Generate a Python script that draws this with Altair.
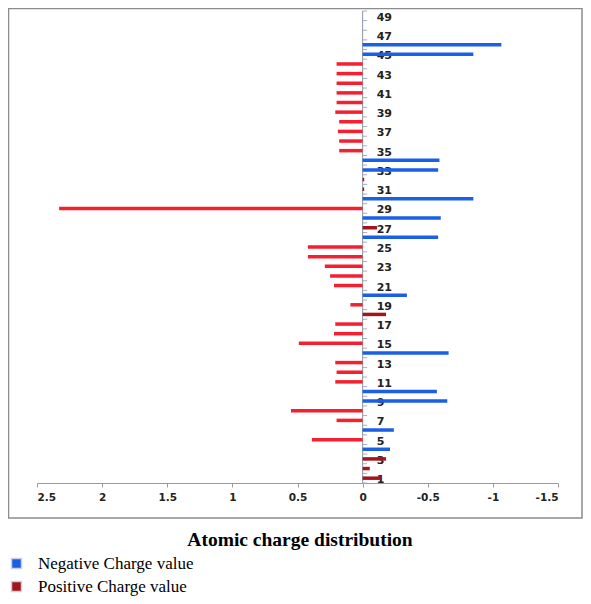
import altair as alt
import pandas as pd

# Category (atom number) and charge values
categories = list(range(1, 50))
neg_cats = [4, 6, 9, 10, 14, 20, 26, 28, 30, 33, 34, 45, 46]
neg_vals = [-0.21, -0.24, -0.65, -0.57, -0.66, -0.34, -0.58, -0.60, -0.85, -0.58, -0.59, -0.85, -1.065]
pos_cats = [1, 2, 3, 18, 27, 31, 32]
pos_vals = [-0.14, -0.055, -0.18, -0.18, -0.11, -0.012, -0.012]
red_cats = [5, 7, 8, 11, 12, 13, 15, 16, 17, 19, 21, 22, 23, 24, 25, 29,
            35, 36, 37, 38, 39, 40, 41, 42, 43, 44]
red_vals = [0.39, 0.20, 0.55, 0.21, 0.20, 0.21, 0.49, 0.22, 0.21, 0.094, 0.22, 0.25, 0.29, 0.42, 0.42, 2.33,
            0.18, 0.18, 0.19, 0.18, 0.21, 0.20, 0.20, 0.20, 0.20, 0.20]
x_ticks = [2.5, 2, 1.5, 1, 0.5, 0, -0.5, -1, -1.5]
y_labels = list(range(1, 50, 2))
boundaries = [c - 0.5 for c in categories] + [49.5]
title_text = "Atomic charge distribution"

NEG = "Negative Charge value"
POS = "Positive Charge value"
OTHER = "Charge value"

rows = []
for c, v in zip(neg_cats, neg_vals):
    rows.append({"cat": c, "value": v, "series": NEG})
for c, v in zip(pos_cats, pos_vals):
    rows.append({"cat": c, "value": v, "series": POS})
for c, v in zip(red_cats, red_vals):
    rows.append({"cat": c, "value": v, "series": OTHER})
df = pd.DataFrame(rows)
bdf = pd.DataFrame({"b": boundaries, "x0": 0.0, "x1": -0.035})
ldf = pd.DataFrame({"lab": y_labels, "x0": 0.0})
adf = pd.DataFrame({"x0": [0.0], "y0": [0.5], "y1": [49.5]})
tdf = pd.DataFrame({"t": [title_text]})
one = pd.DataFrame({"k": [0]})

xscale = alt.Scale(domain=[-1.5, 2.5], reverse=True, nice=False, zero=False, padding=0)
yscale = alt.Scale(domain=[0.5, 49.5], nice=False, zero=False, padding=0)

bars = alt.Chart(df).mark_bar(orient="horizontal", size=3.5).encode(
    x=alt.X("value:Q", scale=xscale, stack=None, title="",
            axis=alt.Axis(values=x_ticks, labelExpr="'' + datum.value", grid=False,
                          tickSize=4, tickColor="#9a9a9a", domainColor="#9a9a9a",
                          labelFont="DejaVu Sans", labelFontSize=10.5, labelFontWeight="bold",
                          labelColor="#222222", labelPadding=5)),
    y=alt.Y("cat:Q", scale=yscale, axis=None),
    color=alt.Color("series:N",
                    scale=alt.Scale(domain=[NEG, POS, OTHER], range=["#1a5fe6", "#a3141e", "#f5202f"]),
                    legend=alt.Legend(values=[NEG, POS], title=None, orient="none",
                                      legendX=-29, legendY=544, symbolType="square", symbolSize=100,
                                      symbolStrokeColor="#c8d2e4", symbolStrokeWidth=1.5,
                                      labelFont="Liberation Serif", labelFontSize=17,
                                      labelColor="#000000", labelOffset=13, rowPadding=5, padding=0)),
)

# vertical category axis line at x = 0
axis_line = alt.Chart(adf).mark_rule(color="#8a96a6", strokeWidth=1).encode(
    x=alt.X("x0:Q", scale=xscale, title=""),
    y=alt.Y("y0:Q", scale=yscale, axis=None),
    y2="y1:Q",
)

# small tick marks between categories
ticks = alt.Chart(bdf).mark_rule(color="#a8b0bc", strokeWidth=1).encode(
    y=alt.Y("b:Q", scale=yscale, axis=None),
    x=alt.X("x0:Q", scale=xscale, title=""),
    x2="x1:Q",
)

# category labels to the right of the axis
labels = alt.Chart(ldf).mark_text(align="left", baseline="middle", dx=14, dy=2,
                                   font="DejaVu Sans", fontSize=11, fontWeight="bold",
                                   color="#222222").encode(
    y=alt.Y("lab:Q", scale=yscale, axis=None),
    x=alt.X("x0:Q", scale=xscale, title=""),
    text="lab:N",
)

frame = alt.Chart(one).mark_rect(filled=False, stroke="#8c8c8c", strokeWidth=1.5).encode(
    x=alt.value(-28.5), x2=alt.value(545), y=alt.value(-2.5), y2=alt.value(507),
)

title = alt.Chart(tdf).mark_text(align="center", baseline="middle", font="Liberation Serif",
                                  fontSize=19.5, fontWeight="bold", color="#000000").encode(
    x=alt.value(263), y=alt.value(529), text="t:N",
)

chart = alt.layer(frame, ticks, axis_line, labels, bars, title).properties(
    width=521, height=472,
    autosize=alt.AutoSizeParams(type="none"),
    padding={"left": 29, "top": 3, "right": 25, "bottom": 113},
    background="white",
).configure_view(strokeWidth=0)

chart.save("out.html", embed_options={"renderer": "svg", "actions": False})
